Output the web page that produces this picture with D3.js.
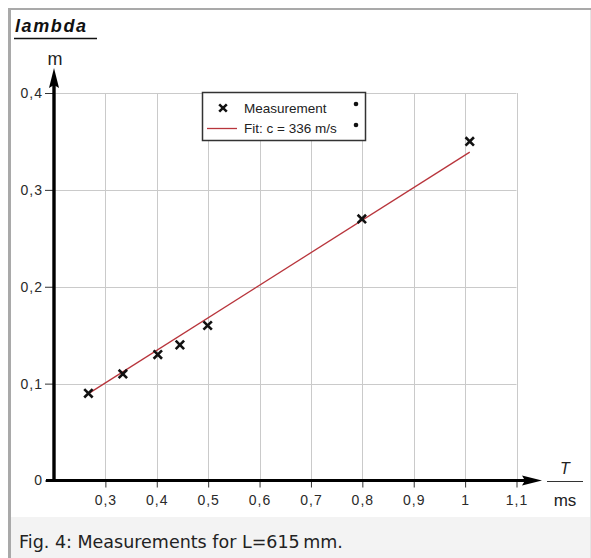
<!DOCTYPE html>
<html>
<head>
<meta charset="utf-8">
<script src="https://cdn.jsdelivr.net/npm/d3@7"></script>
<style>
  body { margin: 0; background: #fff; }
  svg text { font-family: "Liberation Sans", Arial, sans-serif; }
</style>
</head>
<body>
<div id="chart"></div>
<script>
// values (T in ms, lambda in m)
var periods = [0.267, 0.334, 0.402, 0.445, 0.499, 0.799, 1.009];
var lambdas = [0.090, 0.110, 0.130, 0.140, 0.160, 0.270, 0.350];
// fit line endpoints, c = 336 m/s
var fitPeriods = [0.267, 1.009];
var fitLambdas = [0.0897, 0.339];

var xTicks = [0.3, 0.4, 0.5, 0.6, 0.7, 0.8, 0.9, 1.0, 1.1];
var xTickLabels = ["0,3", "0,4", "0,5", "0,6", "0,7", "0,8", "0,9", "1", "1,1"];
var yTicks = [0, 0.1, 0.2, 0.3, 0.4];
var yTickLabels = ["0", "0,1", "0,2", "0,3", "0,4"];
var legendLabels = ["Measurement", "Fit: c = 336 m/s"];

var width = 591, height = 558;

var svg = d3.select("#chart").append("svg")
    .attr("width", width)
    .attr("height", height);

// figure frame + caption band
svg.append("rect").attr("x", 8).attr("y", 8).attr("width", 583).attr("height", 550).attr("fill", "#a9a9a9");
svg.append("rect").attr("x", 11).attr("y", 10).attr("width", 579).attr("height", 548).attr("fill", "#fff");
svg.append("rect").attr("x", 590).attr("y", 10).attr("width", 1).attr("height", 548).attr("fill", "#e4e4e4");
svg.append("rect").attr("x", 11).attr("y", 517).attr("width", 579).attr("height", 41).attr("fill", "#f3f3f3");
svg.append("text")
    .attr("x", 19).attr("y", 547.5)
    .style("font-family", "'DejaVu Sans', sans-serif")
    .attr("font-size", 17.5)
    .attr("fill", "#222")
    .text("Fig. 4: Measurements for L=615\u2009mm.");

var x = d3.scaleLinear().domain([0.2, 1.1]).range([54, 516.5]);
var y = d3.scaleLinear().domain([0, 0.4]).range([480.5, 93]);

// grid
var grid = svg.append("g").attr("stroke", "#cacaca").attr("stroke-width", 1);
grid.selectAll(".vg").data(xTicks).enter().append("line")
    .attr("x1", function(d) { return Math.round(x(d)) + 0.5; })
    .attr("x2", function(d) { return Math.round(x(d)) + 0.5; })
    .attr("y1", y(0.4)).attr("y2", y(0));
grid.selectAll(".hg").data(yTicks.slice(1)).enter().append("line")
    .attr("y1", function(d) { return Math.round(y(d)) + 0.5; })
    .attr("y2", function(d) { return Math.round(y(d)) + 0.5; })
    .attr("x1", x(0.2)).attr("x2", x(1.1));

// axes (ticks + labels), domain lines drawn separately as arrows
var xAxis = svg.append("g")
    .attr("transform", "translate(0," + y(0) + ")")
    .call(d3.axisBottom(x).tickValues(xTicks).tickSize(7).tickPadding(8)
      .tickFormat(function(d, i) { return xTickLabels[i]; }));
var yAxis = svg.append("g")
    .attr("transform", "translate(" + x(0.2) + ",0)")
    .call(d3.axisLeft(y).tickValues(yTicks).tickSize(9).tickPadding(2)
      .tickFormat(function(d, i) { return yTickLabels[i]; }));

[xAxis, yAxis].forEach(function(a) {
  a.select(".domain").remove();
  a.selectAll(".tick line").attr("stroke", "#333");
  a.selectAll(".tick text")
      .attr("font-family", "Liberation Sans, Arial, sans-serif")
      .attr("font-size", 14)
      .attr("letter-spacing", 1)
      .attr("fill", "#2a2a2a");
});

// axis lines with arrowheads
svg.append("line")
    .attr("x1", x(0.2) - 8).attr("x2", 526)
    .attr("y1", y(0)).attr("y2", y(0))
    .attr("stroke", "#000").attr("stroke-width", 3);
svg.append("path")
    .attr("d", "M542," + y(0) + "L522," + (y(0) - 5) + "L525," + y(0) + "L522," + (y(0) + 5) + "Z")
    .attr("fill", "#000");
svg.append("line")
    .attr("x1", x(0.2)).attr("x2", x(0.2))
    .attr("y1", y(0) + 1.5).attr("y2", 84)
    .attr("stroke", "#000").attr("stroke-width", 3.4);
svg.append("path")
    .attr("d", "M" + x(0.2) + ",68L" + (x(0.2) - 5) + ",88L" + x(0.2) + ",85L" + (x(0.2) + 5) + ",88Z")
    .attr("fill", "#000");

// axis titles
svg.append("text")
    .attr("x", 15).attr("y", 32)
    .attr("font-size", 18).attr("font-weight", "bold").attr("font-style", "italic")
    .attr("letter-spacing", 1.6)
    .attr("fill", "#111")
    .text("lambda");
svg.append("line").attr("x1", 14).attr("x2", 97).attr("y1", 38.5).attr("y2", 38.5)
    .attr("stroke", "#111").attr("stroke-width", 1.5);
svg.append("text")
    .attr("x", x(0.2) + 1).attr("y", 65)
    .attr("text-anchor", "middle")
    .attr("font-size", 18).attr("fill", "#222")
    .text("m");
svg.append("text")
    .attr("x", 565).attr("y", 474)
    .attr("text-anchor", "middle")
    .attr("font-size", 16).attr("font-style", "italic").attr("fill", "#222")
    .text("T");
svg.append("line").attr("x1", 547).attr("x2", 583).attr("y1", 481.5).attr("y2", 481.5)
    .attr("stroke", "#333").attr("stroke-width", 1);
svg.append("text")
    .attr("x", 565).attr("y", 506)
    .attr("text-anchor", "middle")
    .attr("font-size", 17).attr("fill", "#222")
    .text("ms");

// fit line
var line = d3.line()
    .x(function(d) { return x(d[0]); })
    .y(function(d) { return y(d[1]); });
svg.append("path")
    .datum(d3.zip(fitPeriods, fitLambdas))
    .attr("d", line)
    .attr("fill", "none")
    .attr("stroke", "#b8353c")
    .attr("stroke-width", 1.3);

// measurement markers
var cross = "M-4.2,-4.2L4.2,4.2M-4.2,4.2L4.2,-4.2";
svg.append("g").selectAll("path")
    .data(d3.zip(periods, lambdas))
    .enter().append("path")
      .attr("transform", function(d) { return "translate(" + x(d[0]) + "," + y(d[1]) + ")"; })
      .attr("d", cross)
      .attr("stroke", "#111")
      .attr("stroke-width", 2.6)
      .attr("fill", "none");

// legend
var legend = svg.append("g");
legend.append("rect")
    .attr("x", 202.5).attr("y", 92.5).attr("width", 163).attr("height", 48)
    .attr("fill", "#fff").attr("stroke", "#333").attr("stroke-width", 1.5);
legend.append("path")
    .attr("transform", "translate(223,108)")
    .attr("d", "M-3.8,-3.6L3.8,3.6M-3.8,3.6L3.8,-3.6")
    .attr("stroke", "#111").attr("stroke-width", 2.6);
legend.append("line")
    .attr("x1", 207).attr("x2", 237).attr("y1", 128.5).attr("y2", 128.5)
    .attr("stroke", "#b8353c").attr("stroke-width", 1.3);
legend.selectAll("text.lg")
    .data(legendLabels)
    .enter().append("text")
      .attr("x", 244)
      .attr("y", function(d, i) { return 113 + i * 20; })
      .attr("font-size", 13.5)
      .attr("fill", "#222")
      .text(function(d) { return d; });
legend.selectAll("circle")
    .data(legendLabels)
    .enter().append("circle")
      .attr("cx", 356)
      .attr("cy", function(d, i) { return 104 + i * 21; })
      .attr("r", 2.3)
      .attr("fill", "#111");
</script>
</body>
</html>
